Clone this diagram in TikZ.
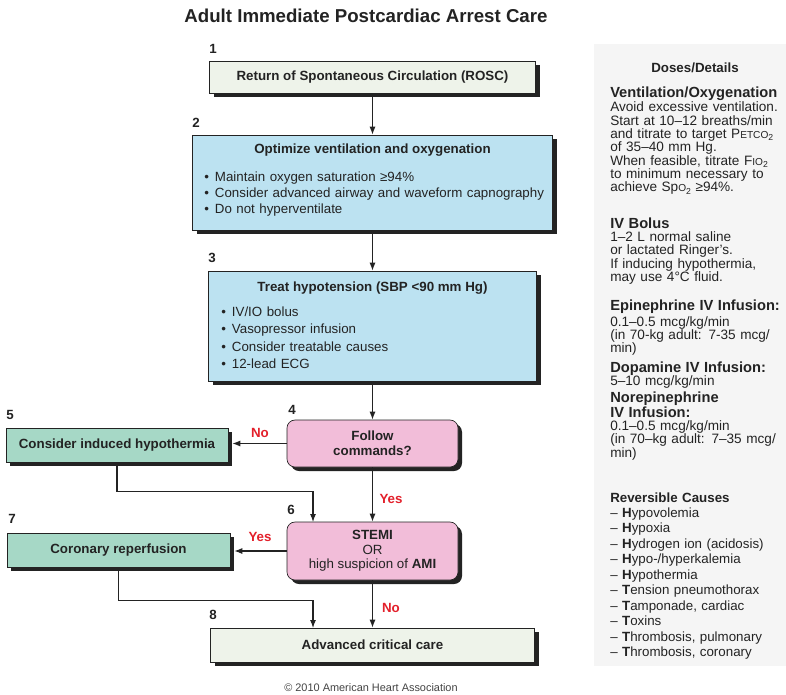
\documentclass[tikz,border=0pt]{standalone}
\usepackage{fontspec}
\setmainfont{Liberation Sans}
\usetikzlibrary{shadows,arrows.meta,calc}
\definecolor{boxgreen}{HTML}{EEF3EA}
\definecolor{boxblue}{HTML}{BCE2F1}
\definecolor{boxteal}{HTML}{A6D8C6}
\definecolor{boxpink}{HTML}{F2BDD9}
\definecolor{labred}{HTML}{E3202B}
\definecolor{ink}{HTML}{232323}
\definecolor{panelgray}{HTML}{F5F5F5}
\newcommand\fcbul{\makebox[8pt][l]{•}}
\newcommand\smc[1]{{\fontsize{7.6}{8}\selectfont #1}}
\newcommand\subtwo{\raisebox{-1.6pt}{\fontsize{6.5}{7}\selectfont 2}}
\newcommand\phead[1]{{\fontsize{11}{10}\selectfont\bfseries #1}}
\lineskiplimit=-10pt
\tikzset{
  wh/.style 2 args={minimum width=#1*0.75pt, minimum height=#2*0.75pt},
  flowbox/.style={draw=ink, line width=0.5pt, inner sep=0pt, text=ink,
     font=\fontsize{10}{11.5}\selectfont\bfseries,
     drop shadow={shadow xshift=3pt, shadow yshift=-3pt, fill=ink, opacity=1}},
  boxtitle/.style={inner sep=0pt, text=ink, font=\fontsize{10}{12}\selectfont\bfseries},
  bulletlist/.style={inner sep=0pt, anchor=base west, text=ink, align=left,
     text width=260pt},
  steplabel/.style={inner sep=0pt, text=ink, font=\fontsize{10}{12}\selectfont\bfseries},
  redlab/.style={inner sep=0pt, text=labred, font=\fontsize{10}{12}\selectfont\bfseries},
  arr/.style={draw=ink, line width=0.8pt, -{Latex[length=6pt,width=4.5pt]}},
  panel/.style={inner sep=0pt, anchor=base west, text=ink, align=left, text width=150pt,
     font=\fontsize{10.2}{10}\selectfont},
}
\begin{document}
\begin{tikzpicture}[x=0.75pt, y=-0.75pt]
\useasboundingbox (0,0) rectangle (786,694);
\fill[white] (0,0) rectangle (786,694);
\fill[panelgray] (594,44) rectangle (786,666);

% title
\node[inner sep=0pt, text=ink, font=\fontsize{14}{16}\selectfont\bfseries] (title) at (366,16)
  {Adult Immediate Postcardiac Arrest Care};

% boxes
\node[flowbox, fill=boxgreen, wh={326}{32}] (b1) at (372.5,77) {Return of Spontaneous Circulation (ROSC)};
\node[flowbox, fill=boxblue, wh={360}{95}] (b2) at (372.5,182.5) {};
\node[flowbox, fill=boxblue, wh={328}{110}] (b3) at (372.5,326) {};
\node[flowbox, fill=boxpink, rounded corners=6pt, wh={171}{47}, align=center] (b4) at (372.5,443.5) {Follow\\commands?};
\node[flowbox, fill=boxteal, wh={222}{34}] (b5) at (117,445) {Consider induced hypothermia};
\node[flowbox, fill=boxpink, rounded corners=6pt, wh={171}{58}, align=center, font=\fontsize{10}{11}\selectfont\bfseries] (b6) at (372.5,551)
  {STEMI\\{\mdseries OR}\\{\mdseries high suspicion of} AMI};
\node[flowbox, fill=boxteal, wh={223}{34}] (b7) at (118.5,550) {Coronary reperfusion};
\node[flowbox, fill=boxgreen, wh={324}{34}] (b8) at (372.5,645) {Advanced critical care};

% box texts
\node[boxtitle] (t2) at (372.5,150) {Optimize ventilation and oxygenation};
\node[bulletlist, font=\fontsize{10}{11.9}\selectfont] (l2) at (204,181.7)
  {\fcbul Maintain oxygen saturation ≥94\%\\
   \fcbul Consider advanced airway and waveform capnography\\
   \fcbul Do not hyperventilate};
\node[boxtitle] (t3) at (372.5,288) {Treat hypotension (SBP <90 mm Hg)};
\node[bulletlist, font=\fontsize{10}{12.9}\selectfont] (l3) at (221,316.7)
  {\fcbul IV/IO bolus\\
   \fcbul Vasopressor infusion\\
   \fcbul Consider treatable causes\\
   \fcbul 12-lead ECG};

% step numbers
\node[steplabel] (n1) at (213,49) {1};
\node[steplabel] (n2) at (196,123) {2};
\node[steplabel] (n3) at (212,258) {3};
\node[steplabel] (n4) at (292,410) {4};
\node[steplabel] (n5) at (10,415) {5};
\node[steplabel] (n6) at (291,510) {6};
\node[steplabel] (n7) at (12,519) {7};
\node[steplabel] (n8) at (213,615) {8};

% coordinates for elbow ends
\coordinate (m6) at (313,522);
\coordinate (m8) at (313,628);

% connectors
\draw[arr] (b1.south) -- (b2.north);
\draw[arr] (b2.south) -- (b3.north);
\draw[arr] (b3.south) -- (b4.north);
\draw[arr, shorten >=3pt] (b4.west) -- (b4.west -| b5.east);
\draw[arr] (b4.south) -- (b6.north);
\draw[arr, shorten >=3pt] (b6.west) -- (b6.west -| b7.east);
\draw[arr] (b6.south) -- (b8.north);
\draw[arr] (b5.south) -- ++(0,29) -| (m6);
\draw[arr] (b7.south) -- ++(0,33) -| (m8);

% red labels
\node[redlab] (no1) at (260,433) {No};
\node[redlab] (yes1) at (391,499) {Yes};
\node[redlab] (yes2) at (260,537) {Yes};
\node[redlab] (no2) at (391,608) {No};

% right panel
\node[inner sep=0pt, text=ink, font=\fontsize{10}{12}\selectfont\bfseries] (dd) at (695,68) {Doses/Details};
\node[panel] (s1) at (610,97)
  {\phead{Ventilation/Oxygenation}\\[1.2pt]
   Avoid excessive ventilation.\\
   Start at 10–12 breaths/min\\
   and titrate to target P\smc{ETCO}\subtwo\\
   of 35–40 mm Hg.\\
   When feasible, titrate F\smc{IO}\subtwo\\
   to minimum necessary to\\
   achieve Sp\smc{O}\subtwo{} ≥94\%.};
\node[panel] (s2) at (610,228.3)
  {\phead{IV Bolus}\\
   1–2 L normal saline\\
   or lactated Ringer’s.\\
   If inducing hypothermia,\\
   may use 4°C fluid.};
\node[panel] (s3) at (610,310.3)
  {\phead{Epinephrine IV Infusion:}\\[2pt]
   0.1–0.5 mcg/kg/min\\
   (in 70-kg adult: 7-35 mcg/\\
   min)};
\node[panel] (s4) at (610,372)
  {\phead{Dopamine IV Infusion:}\\
   5–10 mcg/kg/min};
\node[panel] (s5) at (610,402.3)
  {\phead{Norepinephrine}\\
   \phead{IV Infusion:}\\
   0.1–0.5 mcg/kg/min\\
   (in 70–kg adult: 7–35 mcg/\\
   min)};
\node[panel, font=\fontsize{10}{11.6}\selectfont] (s6) at (610,502)
  {\textbf{Reversible Causes}\\
   – \textbf{H}ypovolemia\\
   – \textbf{H}ypoxia\\
   – \textbf{H}ydrogen ion (acidosis)\\
   – \textbf{H}ypo-/hyperkalemia\\
   – \textbf{H}ypothermia\\
   – \textbf{T}ension pneumothorax\\
   – \textbf{T}amponade, cardiac\\
   – \textbf{T}oxins\\
   – \textbf{T}hrombosis, pulmonary\\
   – \textbf{T}hrombosis, coronary};

% copyright
\node[inner sep=0pt, text=ink!85, font=\fontsize{8.2}{10}\selectfont] (cp) at (371,688) {© 2010 American Heart Association};
\end{tikzpicture}
\end{document}
